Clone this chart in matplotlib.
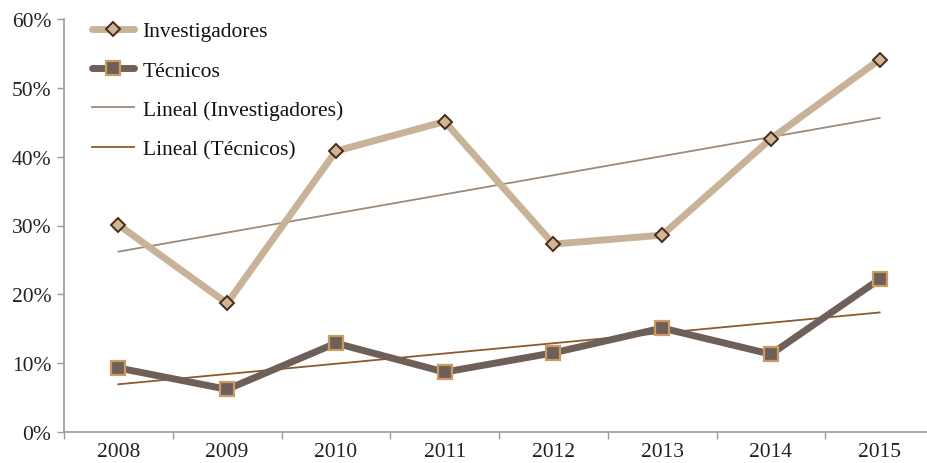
import numpy as np
import matplotlib
matplotlib.use("Agg")
import matplotlib.pyplot as plt
from matplotlib.ticker import FuncFormatter

years = ["2008", "2009", "2010", "2011", "2012", "2013", "2014", "2015"]
investigadores = [30.1, 18.7, 40.8, 45.1, 27.3, 28.6, 42.6, 54.1]
tecnicos = [9.3, 6.2, 12.9, 8.7, 11.5, 15.1, 11.3, 22.2]
y_ticks = [0, 10, 20, 30, 40, 50, 60]

plt.rcParams['font.family'] = ['Liberation Serif', 'DejaVu Serif']

fig = plt.figure(figsize=(9.27, 4.64), dpi=100)
ax = fig.add_axes([64/927, 31/464, 870/927, 413/464])

x = np.arange(len(years))

c_inv = '#C9B398'
c_tec = '#6E6058'
c_inv_tr = '#9E8A7A'
c_tec_tr = '#8C5A2C'

p_inv = np.polyfit(x, investigadores, 1)
p_tec = np.polyfit(x, tecnicos, 1)

l1, = ax.plot(x, investigadores, color=c_inv, lw=5, marker='D', markersize=7.5,
              markerfacecolor='#CDB69A', markeredgecolor='#4A2A12', markeredgewidth=1.4,
              solid_capstyle='round', zorder=4, label='Investigadores')
l2, = ax.plot(x, tecnicos, color=c_tec, lw=5, marker='s', markersize=10,
              markerfacecolor='#6E6058', markeredgecolor='#CC9A62', markeredgewidth=1.6,
              solid_capstyle='round', zorder=4, label='Técnicos')
l3, = ax.plot(x, np.polyval(p_inv, x), color=c_inv_tr, lw=1.3, zorder=3,
              label='Lineal (Investigadores)')
l4, = ax.plot(x, np.polyval(p_tec, x), color=c_tec_tr, lw=1.3, zorder=3,
              label='Lineal (Técnicos)')

ax.set_xlim(-0.5, len(years) - 0.5)
ax.set_ylim(0, 60)
ax.set_yticks(y_ticks)
ax.yaxis.set_major_formatter(FuncFormatter(lambda v, p: f"{int(v)}%"))
ax.set_xticks(x)
ax.set_xticklabels(years)
ax.set_xticks(np.arange(-0.5, len(years), 1), minor=True)
ax.tick_params(axis='x', which='major', length=0, labelsize=15.5, pad=7, labelcolor='#222222')
ax.tick_params(axis='x', which='minor', length=5, color='#999999', width=1)
ax.tick_params(axis='y', which='major', length=5, color='#999999', width=1, labelsize=15.5,
               pad=4, labelcolor='#222222')

for s in ['top', 'right']:
    ax.spines[s].set_visible(False)
for s in ['left', 'bottom']:
    ax.spines[s].set_color('#999999')
    ax.spines[s].set_linewidth(1.2)

leg = fig.legend(handles=[l1, l2, l3, l4], loc='upper left',
                 bbox_to_anchor=(92/927, 1 - 22/464), frameon=False, fontsize=15.5,
                 handlelength=1.95, handletextpad=0.4, labelspacing=0.9, borderpad=0,
                 borderaxespad=0)
for t in leg.get_texts():
    t.set_color('#111111')

fig.savefig('out.png', dpi=100)
